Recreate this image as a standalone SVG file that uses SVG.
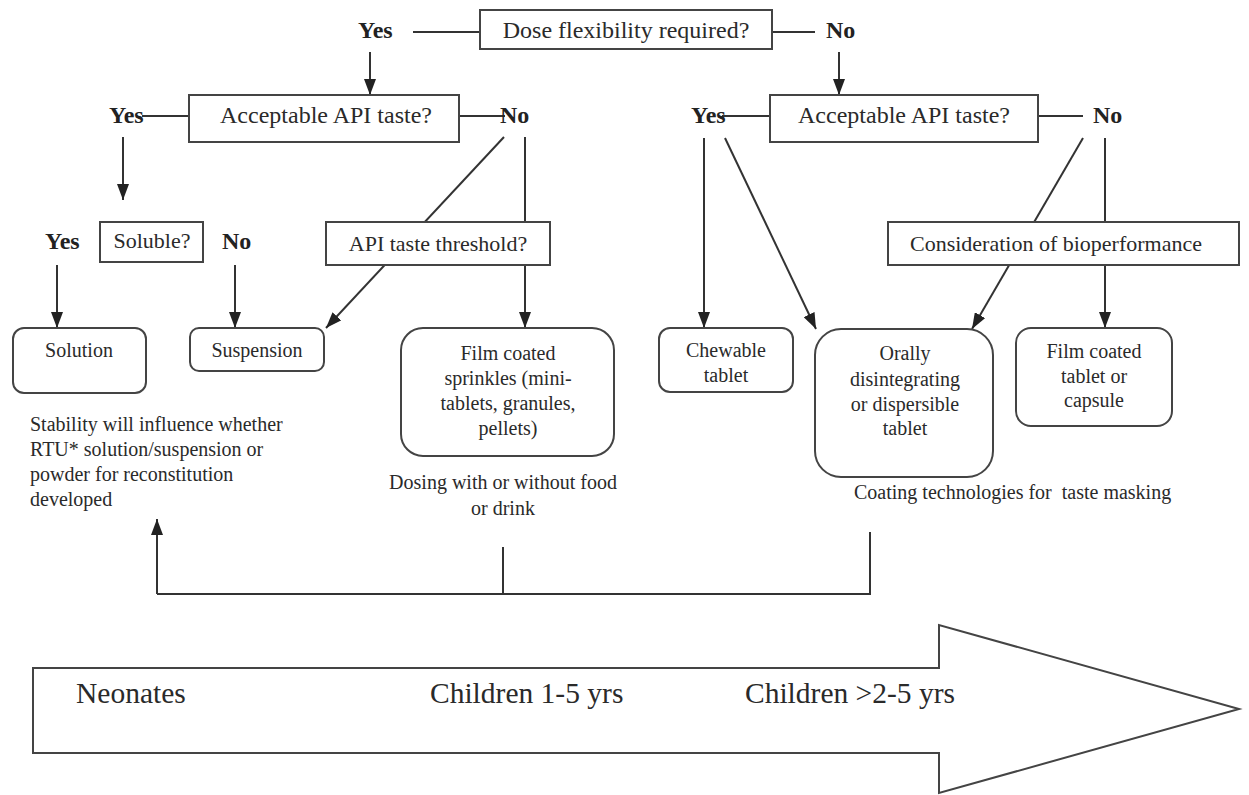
<svg xmlns="http://www.w3.org/2000/svg" width="1249" height="795" viewBox="0 0 1249 795">
<style>
text{font-family:"Liberation Serif","Times New Roman",serif;fill:#2a2a2a}
.q{font-size:24px;text-anchor:middle}
.q2{font-size:22px;text-anchor:middle}
.b{font-size:24px;font-weight:bold;fill:#222}
.t{font-size:20px;text-anchor:middle}
.n{font-size:20px}
.big{font-size:29.5px}
.box{fill:#fff;stroke:#444;stroke-width:2}
.ln{stroke:#333;stroke-width:2;fill:none}
.ar{stroke:#333;stroke-width:2;fill:none;marker-end:url(#ah)}
</style>
<defs>
<marker id="ah" viewBox="0 0 16 12" refX="16" refY="6" markerWidth="16" markerHeight="12" markerUnits="userSpaceOnUse" orient="auto">
<path d="M0,0 L16,6 L0,12 z" fill="#222"/>
</marker>
</defs>
<rect width="1249" height="795" fill="#fff"/>

<g id="connectors">
<line class="ln" x1="413" y1="32" x2="480" y2="32"/>
<line class="ln" x1="772" y1="32" x2="815" y2="32"/>
<line class="ar" x1="370" y1="52" x2="370" y2="95"/>
<line class="ar" x1="839" y1="52" x2="839" y2="95"/>
<line class="ln" x1="142" y1="116" x2="189" y2="116"/>
<line class="ln" x1="459" y1="116" x2="505" y2="116"/>
<line class="ln" x1="722" y1="116" x2="770" y2="116"/>
<line class="ln" x1="1038" y1="116" x2="1083" y2="116"/>
<line class="ar" x1="123" y1="137" x2="123" y2="200"/>
<line class="ar" x1="57" y1="265" x2="57" y2="328"/>
<line class="ar" x1="235" y1="265" x2="235" y2="328"/>
<line class="ar" x1="504" y1="137" x2="326" y2="328"/>
<line class="ln" x1="525" y1="137" x2="525" y2="222"/>
<line class="ar" x1="525" y1="265" x2="525" y2="328"/>
<line class="ar" x1="704" y1="138" x2="704" y2="328"/>
<line class="ar" x1="725" y1="138" x2="816" y2="329"/>
<line class="ar" x1="1083" y1="138" x2="972" y2="329"/>
<line class="ln" x1="1105" y1="138" x2="1105" y2="222"/>
<line class="ar" x1="1105" y1="265" x2="1105" y2="328"/>
<polyline class="ln" points="503,547 503,594"/>
<polyline class="ln" points="870,532 870,594 157,594"/>
<line class="ar" x1="157" y1="594" x2="157" y2="519"/>
</g>

<g id="labels">
<text class="b" x="358" y="38">Yes</text>
<text class="b" x="826" y="38">No</text>
<text class="b" x="109" y="123">Yes</text>
<text class="b" x="500" y="123">No</text>
<text class="b" x="691" y="123">Yes</text>
<text class="b" x="1093" y="123">No</text>
<text class="b" x="45" y="249">Yes</text>
<text class="b" x="222" y="249">No</text>
</g>

<g id="dose">
<rect class="box" x="480" y="10" width="292" height="39"/>
<text class="q" x="626" y="38">Dose flexibility required?</text>
</g>
<g id="taste-left">
<rect class="box" x="189" y="95" width="270" height="47"/>
<text class="q" x="326" y="123">Acceptable API taste?</text>
</g>
<g id="taste-right">
<rect class="box" x="770" y="95" width="268" height="47"/>
<text class="q" x="904" y="123">Acceptable API taste?</text>
</g>
<g id="soluble">
<rect class="box" x="100" y="222" width="103" height="40"/>
<text class="q2" x="152" y="248">Soluble?</text>
</g>
<g id="threshold">
<rect class="box" x="326" y="222" width="224" height="43"/>
<text class="q2" x="438" y="251">API taste threshold?</text>
</g>
<g id="bioperformance">
<rect class="box" x="888" y="222" width="351" height="43"/>
<text class="q2" x="1056" y="251">Consideration of bioperformance</text>
</g>

<g id="solution">
<rect class="box" x="13" y="328" width="133" height="65" rx="11"/>
<text class="t" x="79" y="357">Solution</text>
</g>
<g id="suspension">
<rect class="box" x="190" y="328" width="134" height="43" rx="9"/>
<text class="t" x="257" y="357">Suspension</text>
</g>
<g id="sprinkles">
<rect class="box" x="401" y="328" width="213" height="128" rx="22"/>
<text class="t" x="508" y="360">Film coated</text>
<text class="t" x="508" y="385">sprinkles (mini-</text>
<text class="t" x="508" y="410">tablets, granules,</text>
<text class="t" x="508" y="435">pellets)</text>
</g>
<g id="chewable">
<rect class="box" x="659" y="328" width="134" height="64" rx="11"/>
<text class="t" x="726" y="357">Chewable</text>
<text class="t" x="726" y="382">tablet</text>
</g>
<g id="orally">
<rect class="box" x="815" y="329" width="178" height="148" rx="26"/>
<text class="t" x="905" y="360">Orally</text>
<text class="t" x="905" y="386">disintegrating</text>
<text class="t" x="905" y="411">or dispersible</text>
<text class="t" x="905" y="435">tablet</text>
</g>
<g id="filmtablet">
<rect class="box" x="1016" y="328" width="156" height="98" rx="15"/>
<text class="t" x="1094" y="358">Film coated</text>
<text class="t" x="1094" y="383">tablet or</text>
<text class="t" x="1094" y="407">capsule</text>
</g>

<g id="notes">
<text class="n" x="30" y="431">Stability will influence whether</text>
<text class="n" x="30" y="456">RTU* solution/suspension or</text>
<text class="n" x="30" y="481">powder for reconstitution</text>
<text class="n" x="30" y="506">developed</text>
<text class="t" x="503" y="489">Dosing with or without food</text>
<text class="t" x="503" y="515">or drink</text>
<text class="n" x="854" y="499" style="white-space:pre">Coating technologies for  taste masking</text>
</g>

<g id="age-arrow">
<path class="box" d="M33,668 L939,668 L939,625 L1239,709 L939,793 L939,753 L33,753 Z"/>
<text class="big" x="76" y="703">Neonates</text>
<text class="big" x="430" y="703">Children 1-5 yrs</text>
<text class="big" x="745" y="703">Children &gt;2-5 yrs</text>
</g>
</svg>
